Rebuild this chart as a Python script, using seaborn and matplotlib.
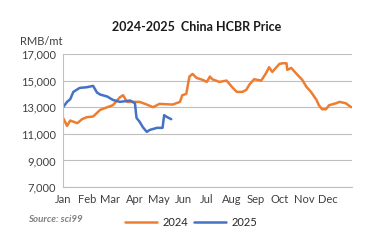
import matplotlib
matplotlib.use("Agg")
import matplotlib.pyplot as plt
import seaborn as sns
import pandas as pd
from matplotlib.lines import Line2D

# ---- data (day of year, price RMB/mt) ----
days_2024 = [0, 5, 9, 18, 24, 30, 38, 47, 56, 63, 72, 76, 81, 88, 97, 106, 114, 122,
             139, 148, 151, 156, 160, 164, 169, 177, 182, 186, 189, 198, 207, 215, 220,
             227, 232, 236, 242, 251, 257, 261, 265, 274, 278, 283, 284, 289, 295, 303,
             308, 314, 321, 324, 328, 333, 337, 346, 350, 358, 365]
price_2024 = [12200, 11600, 12000, 11800, 12100, 12250, 12300, 12800, 13000, 13150, 13750, 13900,
              13400, 13400, 13400, 13200, 13000, 13250, 13200, 13400, 13900, 14000, 15300, 15500,
              15200, 15050, 14900, 15300, 15100, 14900, 15000, 14450, 14150, 14150, 14300, 14700,
              15100, 15000, 15550, 16000, 15650, 16250, 16300, 16300, 15800, 15950, 15550, 15050,
              14550, 14150, 13550, 13150, 12850, 12850, 13150, 13300, 13400, 13300, 13000]

days_2025 = [0, 5, 9, 13, 21, 30, 34, 38, 43, 47, 56, 63, 72, 85, 88, 91, 93, 97, 101,
             106, 110, 119, 126, 128, 132, 137]
price_2025 = [13000, 13400, 13600, 14150, 14450, 14500, 14550, 14600, 14100, 13950, 13800, 13550,
              13400, 13500, 13400, 13300, 12200, 11900, 11500, 11150, 11300, 11450, 11450, 12400,
              12250, 12100]

month_starts = [0, 31, 60, 91, 121, 152, 182, 213, 244, 274, 305, 335, 366]
month_labels = ["Jan", "Feb", "Mar", "Apr", "May", "Jun", "Jul", "Aug", "Sep", "Oct", "Nov", "Dec", ""]
y_ticks = [7000, 9000, 11000, 13000, 15000, 17000]

df = pd.concat([
    pd.DataFrame({"day": days_2024, "price": price_2024, "year": "2024"}),
    pd.DataFrame({"day": days_2025, "price": price_2025, "year": "2025"}),
])

sns.set_style("white")
plt.rcParams["font.family"] = ["Lato", "DejaVu Sans"]

fig = plt.figure(figsize=(3.69, 2.43), dpi=100)
ax = fig.add_axes([0.171, 0.230, 0.783, 0.548])

sns.lineplot(data=df, x="day", y="price", hue="year",
             palette={"2024": "#ED7D31", "2025": "#4472C4"},
             linewidth=1.8, ax=ax, legend=False, sort=False)

ax.set_xlim(0, 366)
ax.set_ylim(7000, 17000)
ax.set_yticks(y_ticks)
ax.set_yticklabels([f"{v:,}" for v in y_ticks], fontsize=8, color="#404040")
ax.set_xticks(month_starts)
ax.set_xticklabels(month_labels, fontsize=8, color="#404040")
ax.set_xlabel("")
ax.set_ylabel("")
ax.grid(axis="y", color="#BFBFBF", linewidth=0.8)
ax.set_axisbelow(True)
for s in ["top", "right"]:
    ax.spines[s].set_visible(False)
ax.spines["left"].set_color("#BFBFBF")
ax.spines["bottom"].set_color("#BFBFBF")
ax.tick_params(axis="x", length=3, color="#BFBFBF", width=0.8, pad=2)
ax.tick_params(axis="y", length=3, color="#BFBFBF", width=0.8, pad=2)

fig.text(0.534, 0.89, "2024-2025  China HCBR Price", ha="center", va="center",
         fontsize=9, fontweight="bold", color="#1a1a1a")
fig.text(0.054, 0.83, "RMB/mt", ha="left", va="center", fontsize=8, color="#404040")
fig.text(0.076, 0.098, "Source: sci99", ha="left", va="center", fontsize=7,
         fontweight="bold", style="italic", color="#808080")

handles = [Line2D([], [], color="#ED7D31", linewidth=1.8),
           Line2D([], [], color="#4472C4", linewidth=1.8)]
fig.legend(handles, ["2024", "2025"], loc="center", bbox_to_anchor=(0.518, 0.085),
           ncol=2, frameon=False, fontsize=8, handlelength=2.9, columnspacing=0.5,
           handletextpad=0.5)

fig.savefig("out.png", dpi=100)
